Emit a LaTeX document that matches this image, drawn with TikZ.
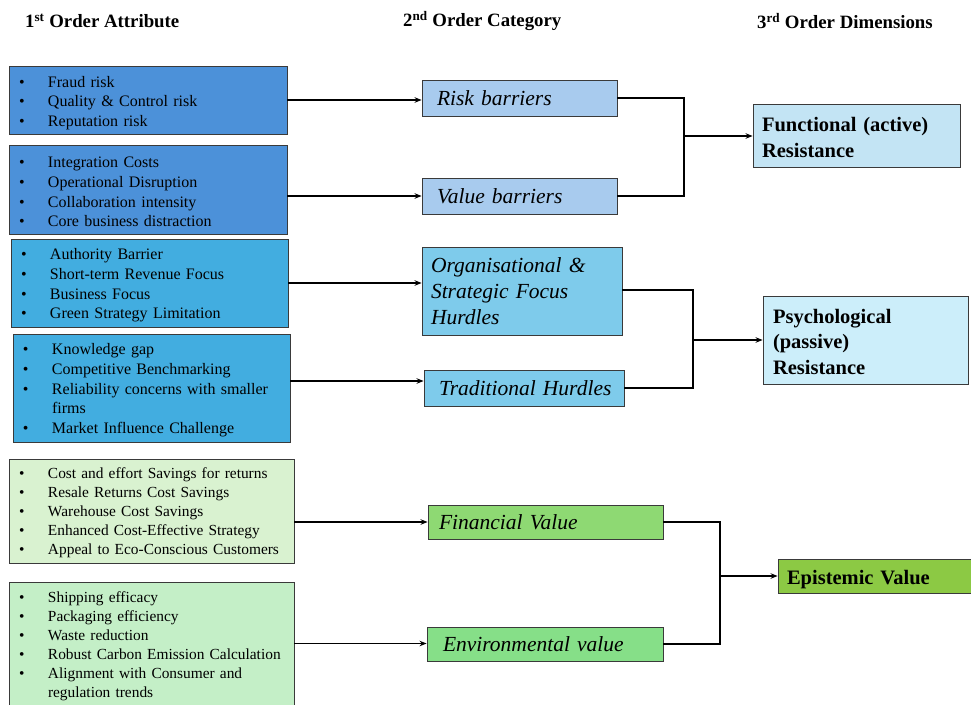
\documentclass[tikz,border=0pt]{standalone}
\usepackage{fontspec}
\setmainfont{Liberation Serif}
\usetikzlibrary{arrows.meta,calc}
\definecolor{edgegray}{HTML}{3A3A3A}
\definecolor{cbA}{HTML}{4C91D9}
\definecolor{cbB}{HTML}{42ADE0}
\definecolor{cgA}{HTML}{D9F2D0}
\definecolor{cgB}{HTML}{C4EFC7}
\definecolor{cmA}{HTML}{A8CBEE}
\definecolor{cmB}{HTML}{7ECBEB}
\definecolor{cmC}{HTML}{8ED973}
\definecolor{cmD}{HTML}{86DF88}
\definecolor{crA}{HTML}{C3E4F4}
\definecolor{crB}{HTML}{CCEEFA}
\definecolor{crC}{HTML}{8CC944}
\newcommand\bl[1]{\mbox{\makebox[29pt][l]{\textbullet}#1}}
\newcommand\bcont[1]{\mbox{\hspace*{29pt}#1}}
\newcommand\tsh[1]{\rule{0pt}{#1}}
\begin{document}
\begin{tikzpicture}[x=1pt,y=-1pt,
 lbox/.style={draw=edgegray,line width=0.9pt,inner xsep=10pt,inner ysep=0pt,align=left,font=\fontsize{16}{19.7}\selectfont},
 gfont/.style={font=\fontsize{15.4}{19}\selectfont},
 mbox/.style={draw=edgegray,line width=0.9pt,inner ysep=0pt,align=left,font=\fontsize{21.5}{26}\selectfont\itshape},
 rbox/.style={draw=edgegray,line width=0.9pt,inner ysep=0pt,align=left,font=\fontsize{20.5}{25.5}\selectfont\bfseries},
 hdr/.style={anchor=west,inner sep=0pt,font=\fontsize{18.8}{20}\selectfont\bfseries},
 conn/.style={line width=1.3pt,-{Stealth[length=7pt,width=5.5pt]}},
 elb/.style={line width=1.3pt}
]
\useasboundingbox (0,0) rectangle (971,704);
\clip (0,0) rectangle (971,704);

% headers
\node[hdr] (h1) at (25,21) {1\textsuperscript{st} Order Attribute};
\node[hdr] (h2) at (403,21) {2\textsuperscript{nd} Order Category};
\node[hdr] (h3) at (757,21) {3\textsuperscript{rd} Order Dimensions};

% left boxes
\node[lbox,fill=cbA,text width=258pt,minimum height=68pt] (b1) at (148,100)
 {\tsh{17pt}\bl{Fraud risk}\\\bl{Quality \& Control risk}\\\bl{Reputation risk}};
\node[lbox,fill=cbA,text width=258pt,minimum height=89pt] (b2) at (148,189.5)
 {\tsh{16pt}\bl{Integration Costs}\\\bl{Operational Disruption}\\\bl{Collaboration intensity}\\\bl{Core business distraction}};
\node[lbox,fill=cbB,text width=257pt,minimum height=88pt] (b3) at (149.5,283)
 {\tsh{16pt}\bl{Authority Barrier}\\\bl{Short-term Revenue Focus}\\\bl{Business Focus}\\\bl{Green Strategy Limitation}};
\node[lbox,fill=cbB,text width=257pt,minimum height=108pt] (b4) at (151.5,388)
 {\tsh{16pt}\bl{Knowledge gap}\\\bl{Competitive Benchmarking}\\\bl{Reliability concerns with smaller}\\\bcont{firms}\\\bl{Market Influence Challenge}};
\node[lbox,gfont,fill=cgA,text width=265pt,minimum height=104pt] (b5) at (151.5,511)
 {\tsh{15pt}\bl{Cost and effort Savings for returns}\\\bl{Resale Returns Cost Savings}\\\bl{Warehouse Cost Savings}\\\bl{Enhanced Cost-Effective Strategy}\\\bl{Appeal to Eco-Conscious Customers}};
\node[lbox,gfont,fill=cgB,text width=265pt,minimum height=123pt] (b6) at (151.5,643.5)
 {\tsh{16pt}\bl{Shipping efficacy}\\\bl{Packaging efficiency}\\\bl{Waste reduction}\\\bl{Robust Carbon Emission Calculation}\\\bl{Alignment with Consumer and}\\\bcont{regulation trends}};

% middle boxes
\node[mbox,fill=cmA,inner xsep=15pt,text width=165pt,minimum height=36pt] (rb) at (519.5,98) {\mbox{Risk barriers}};
\node[mbox,fill=cmA,inner xsep=15pt,text width=165pt,minimum height=36pt] (vb) at (519.5,196) {\mbox{Value barriers}};
\node[mbox,fill=cmB,inner xsep=9pt,text width=182pt,minimum height=88pt] (org) at (522,291) {\mbox{Organisational \&}\\\mbox{Strategic Focus}\\\mbox{Hurdles}};
\node[mbox,fill=cmB,inner xsep=15pt,text width=170pt,minimum height=36pt] (trad) at (524,388) {\mbox{Traditional Hurdles}};
\node[mbox,fill=cmC,inner xsep=11pt,text width=213pt,minimum height=34pt] (fin) at (545.5,522) {\mbox{Financial Value}};
\node[mbox,fill=cmD,inner xsep=16pt,text width=204pt,minimum height=34pt] (env) at (545,644) {\mbox{Environmental value}};

% right boxes
\node[rbox,fill=crA,inner xsep=9pt,text width=189pt,minimum height=63pt] (fr) at (856.5,135.5) {\tsh{18pt}\mbox{Functional (active)}\\\mbox{Resistance}};
\node[rbox,fill=crB,inner xsep=10pt,text width=185pt,minimum height=88pt] (pr) at (865.5,340) {\tsh{18pt}\mbox{Psychological}\\\mbox{(passive)}\\\mbox{Resistance}};
\node[rbox,fill=crC,inner xsep=9pt,text width=179pt,minimum height=34pt] (ev) at (876.5,576) {\tsh{21pt}\mbox{Epistemic Value}};

% left-to-middle connectors
\draw[conn] (b1.east) -- (b1.east -| rb.west);
\draw[conn] (b2.east |- vb.west) -- (vb.west);
\draw[conn] (b3.east) -- (b3.east -| org.west);
\coordinate (s4) at ([yshift=7pt]b4.east);
\draw[conn] (s4) -- (s4 -| trad.west);
\draw[conn] (b5.east |- fin.west) -- (fin.west);
\draw[conn] (b6.east) -- (b6.east -| env.west);

% elbows
\coordinate (j1) at (684,136);
\draw[elb] (rb.east) -| (j1);
\draw[elb] (vb.east) -| (j1);
\draw[conn] (j1) -- (j1 -| fr.west);

\coordinate (j2) at (693,340);
\draw[elb] ([yshift=1pt]org.east) -| (j2);
\draw[elb] (trad.east) -| (j2);
\draw[conn] (j2) -- (j2 -| pr.west);

\coordinate (j3) at (720,576);
\draw[elb] (fin.east) -| (j3);
\draw[elb] (env.east) -| (j3);
\draw[conn] (j3) -- (j3 -| ev.west);
\end{tikzpicture}
\end{document}
